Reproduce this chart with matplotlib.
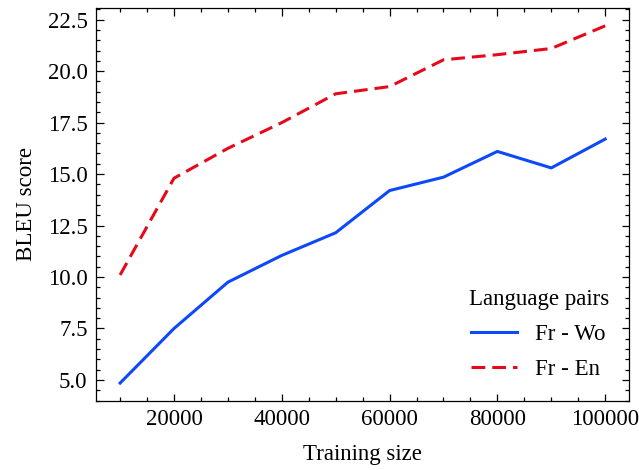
import numpy as np
import matplotlib
matplotlib.use("Agg")
import matplotlib.pyplot as plt

sizes = [10000, 20000, 30000, 40000, 50000, 60000, 70000, 80000, 90000, 100000]
fr_wo = [4.85, 7.5, 9.75, 11.05, 12.15, 14.2, 14.85, 16.1, 15.3, 16.7]
fr_en = [10.1, 14.8, 16.25, 17.5, 18.9, 19.25, 20.55, 20.8, 21.1, 22.2]

s = 1.8
plt.rcParams["font.family"] = ["Liberation Serif", "DejaVu Serif"]
plt.rcParams["font.size"] = 16.5
plt.rcParams["axes.linewidth"] = 0.5 * s
for ax_ in ("xtick", "ytick"):
    plt.rcParams[ax_ + ".direction"] = "in"
    plt.rcParams[ax_ + ".major.size"] = 3 * s
    plt.rcParams[ax_ + ".minor.size"] = 1.5 * s
    plt.rcParams[ax_ + ".major.width"] = 0.5 * s
    plt.rcParams[ax_ + ".minor.width"] = 0.5 * s
    plt.rcParams[ax_ + ".minor.visible"] = True
    plt.rcParams[ax_ + ".major.pad"] = 6
plt.rcParams["xtick.top"] = True
plt.rcParams["ytick.right"] = True

fig, ax = plt.subplots(figsize=(6.39, 4.70), dpi=100)
ax.plot(sizes, fr_wo, color="#0d49fb", linestyle="-", linewidth=2.2, label="Fr - Wo")
ax.plot(sizes, fr_en, color="#e6091c", linestyle=(0, (4.5, 2.3)), linewidth=2.2, label="Fr - En")
ax.set_xlabel("Training size", labelpad=10)
ax.set_ylabel("BLEU score", labelpad=8)
ax.set_xticks([20000, 40000, 60000, 80000, 100000])
ax.set_yticks(np.arange(5, 23, 2.5))
ax.yaxis.set_major_formatter(matplotlib.ticker.FormatStrFormatter("%.1f"))
ax.legend(title="Language pairs", frameon=False, loc="lower right", handlelength=2.0,
          labelspacing=0.62, bbox_to_anchor=(1.0, 0.0))
fig.subplots_adjust(left=0.15, right=0.985, top=0.983, bottom=0.147)
fig.savefig("out.png")
